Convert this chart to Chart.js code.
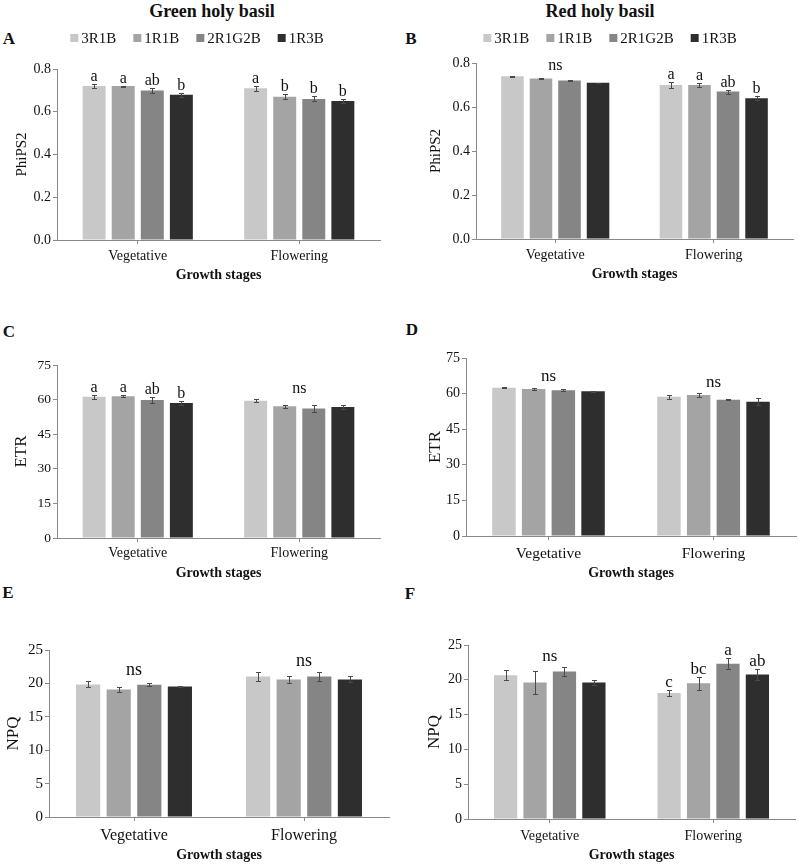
<!DOCTYPE html>
<html>
<head>
<meta charset="utf-8">
<title>PhiPS2, ETR and NPQ of holy basil</title>
<script src="https://cdn.jsdelivr.net/npm/chart.js@4.4.1/dist/chart.umd.min.js"></script>
<style>
  body { margin: 0; background: #fff; }
  #page { position: relative; width: 798px; height: 864px; overflow: hidden;
          font-family: "Liberation Serif", "Times New Roman", serif; color: #111; }
  .txt { position: absolute; transform: translate(-50%, -50%); font-weight: bold;
         white-space: nowrap; line-height: 1; }
  canvas { position: absolute; }
</style>
</head>
<body>
<div id="page">
  <div class="txt" style="left:212px;top:11px;font-size:18px">Green holy basil</div>
  <div class="txt" style="left:600px;top:11px;font-size:18px">Red holy basil</div>
  <div class="txt" style="left:9px;top:38px;font-size:17px">A</div>
  <div class="txt" style="left:411px;top:38px;font-size:17px">B</div>
  <div class="txt" style="left:9px;top:331px;font-size:17px">C</div>
  <div class="txt" style="left:412px;top:329px;font-size:17px">D</div>
  <div class="txt" style="left:8px;top:592px;font-size:17px">E</div>
  <div class="txt" style="left:410px;top:593px;font-size:17px">F</div>

  <canvas id="cA" width="398" height="290" style="left:0;top:0"></canvas>
  <canvas id="cB" width="400" height="290" style="left:398px;top:0"></canvas>
  <canvas id="cC" width="398" height="300" style="left:0;top:290px"></canvas>
  <canvas id="cD" width="400" height="300" style="left:398px;top:290px"></canvas>
  <canvas id="cE" width="398" height="274" style="left:0;top:590px"></canvas>
  <canvas id="cF" width="400" height="274" style="left:398px;top:590px"></canvas>
</div>

<script>
const stages = ['Vegetative', 'Flowering'];
const treatments = ['3R1B', '1R1B', '2R1G2B', '1R3B'];
const barColors = ['#c8c8c8', '#a4a4a4', '#858585', '#2e2e2e'];

// rows follow treatments, columns follow stages
const phiGreen = [[0.72, 0.71], [0.72, 0.67], [0.70, 0.66], [0.68, 0.65]];
const phiGreenErr = [[0.011, 0.011], [0.002, 0.011], [0.012, 0.012], [0.010, 0.010]];
const phiGreenLetters = [['a', 'a'], ['a', 'b'], ['ab', 'b'], ['b', 'b']];
const phiGreenNs = [false, false];

const phiRed = [[0.74, 0.70], [0.73, 0.70], [0.72, 0.67], [0.71, 0.64]];
const phiRedErr = [[0.003, 0.012], [0.002, 0.011], [0.002, 0.009], [0.001, 0.010]];
const phiRedLetters = [['', 'a'], ['', 'a'], ['', 'ab'], ['', 'b']];
const phiRedNs = [true, false];

const etrGreen = [[61.2, 59.5], [61.5, 57.1], [59.8, 56.1], [58.5, 56.8]];
const etrGreenErr = [[1.0, 0.6], [0.3, 0.7], [1.2, 1.5], [0.8, 0.9]];
const etrGreenLetters = [['a', ''], ['a', ''], ['ab', ''], ['b', '']];
const etrGreenNs = [false, true];

const etrRed = [[62.5, 58.7], [61.9, 59.4], [61.4, 57.4], [61.0, 56.6]];
const etrRedErr = [[0.2, 0.9], [0.3, 0.8], [0.4, 0.2], [0.2, 1.5]];
const etrRedLetters = [['', ''], ['', ''], ['', ''], ['', '']];
const etrRedNs = [true, true];

const npqGreen = [[19.85, 21.05], [19.1, 20.6], [19.8, 21.05], [19.55, 20.6]];
const npqGreenErr = [[0.45, 0.65], [0.4, 0.5], [0.25, 0.65], [0.12, 0.45]];
const npqGreenLetters = [['', ''], ['', ''], ['', ''], ['', '']];
const npqGreenNs = [true, true];

const npqRed = [[20.65, 18.1], [19.6, 19.5], [21.2, 22.3], [19.6, 20.75]];
const npqRedErr = [[0.75, 0.4], [1.65, 0.9], [0.6, 0.8], [0.3, 0.8]];
const npqRedLetters = [['', 'c'], ['', 'bc'], ['', 'a'], ['', 'ab']];
const npqRedNs = [true, false];

const phiTicks = [0, 0.2, 0.4, 0.6, 0.8];
const etrTicks = [0, 15, 30, 45, 60, 75];
const npqTicks = [0, 5, 10, 15, 20, 25];

const serif = '"Liberation Serif", "Times New Roman", serif';
const ink = '#111111';
const axisColor = '#8a8a8a';

// error bars, significance letters and "ns" labels
const marksPlugin = {
  id: 'marks',
  afterDatasetsDraw(chart, args, opts) {
    const ctx = chart.ctx;
    const x = chart.scales.x, y = chart.scales.y;
    const tops = stages.map(() => Infinity);
    ctx.save();
    ctx.strokeStyle = '#4a4a4a';
    ctx.lineWidth = 1;
    ctx.fillStyle = ink;
    ctx.font = opts.size + 'px ' + serif;
    ctx.textAlign = 'center';
    ctx.textBaseline = 'alphabetic';
    chart.data.datasets.forEach((ds, i) => {
      chart.getDatasetMeta(i).data.forEach((bar, j) => {
        const v = ds.data[j], e = ds.err[j];
        const yt = Math.round(y.getPixelForValue(v + e)) + 0.5;
        const yb = Math.round(y.getPixelForValue(v - e)) + 0.5;
        const bx = Math.round(bar.x) + 0.5;
        ctx.beginPath();
        ctx.moveTo(bx, yt); ctx.lineTo(bx, yb);
        ctx.moveTo(bx - 2.5, yt); ctx.lineTo(bx + 2.5, yt);
        ctx.moveTo(bx - 2.5, yb); ctx.lineTo(bx + 2.5, yb);
        ctx.stroke();
        tops[j] = Math.min(tops[j], yt);
        if (ds.letters[j]) ctx.fillText(ds.letters[j], bar.x, yt - 4);
      });
    });
    opts.ns.forEach((on, j) => {
      if (on) ctx.fillText('ns', x.getPixelForValue(j), tops[j] - 7);
    });
    ctx.restore();
  }
};

// square-marker legend above the plot
const legendPlugin = {
  id: 'boxLegend',
  afterDraw(chart, args, opts) {
    if (!opts.show) return;
    const ctx = chart.ctx;
    const box = 8, gap = 3, space = 17;
    ctx.save();
    ctx.font = opts.size + 'px ' + serif;
    const items = chart.data.datasets.map(d => ({
      text: d.label, color: d.backgroundColor, w: ctx.measureText(d.label).width
    }));
    const total = items.reduce((s, it) => s + box + gap + it.w, 0) + space * (items.length - 1);
    let cx = opts.cx - total / 2;
    ctx.textBaseline = 'middle';
    ctx.textAlign = 'left';
    items.forEach(it => {
      ctx.fillStyle = it.color;
      ctx.fillRect(cx, opts.cy - box / 2, box, box);
      cx += box + gap;
      ctx.fillStyle = ink;
      ctx.fillText(it.text, cx, opts.cy + 1);
      cx += it.w + space;
    });
    ctx.restore();
  }
};

function panel(id, rows, errs, letters, ns, ticks, o) {
  new Chart(document.getElementById(id), {
    type: 'bar',
    data: {
      labels: stages,
      datasets: treatments.map((t, i) => ({
        label: t,
        data: rows[i],
        err: errs[i],
        letters: letters[i],
        backgroundColor: barColors[i],
        borderWidth: 0,
        categoryPercentage: 0.72,
        barPercentage: 0.79
      }))
    },
    options: {
      responsive: false,
      animation: false,
      layout: { padding: { left: 0, top: o.top, right: o.right, bottom: o.bottom } },
      plugins: {
        legend: { display: false },
        tooltip: { enabled: false },
        marks: { ns: ns, size: o.mark },
        boxLegend: { show: !!o.legendX, cx: o.legendX, cy: 38, size: 15 }
      },
      scales: {
        x: {
          grid: { display: true, drawOnChartArea: false, offset: false, tickLength: 4, color: axisColor },
          border: { color: axisColor },
          ticks: { font: { family: serif, size: o.cat, lineHeight: 1 }, color: ink, padding: o.catPad, maxRotation: 0 },
          title: {
            display: true, text: 'Growth stages', color: ink,
            font: { family: serif, size: 14, weight: 'bold', lineHeight: 1 },
            padding: { top: 0, bottom: o.gsPad }
          },
          afterFit: s => { s.height = 45; }
        },
        y: {
          min: ticks[0],
          max: ticks[ticks.length - 1],
          afterBuildTicks: s => { s.ticks = ticks.map(v => ({ value: v })); },
          grid: { display: true, drawOnChartArea: false, tickLength: 4, color: axisColor },
          border: { color: axisColor },
          ticks: {
            font: { family: serif, size: o.tick, lineHeight: 1 }, color: ink, padding: 2,
            callback: v => o.fixed ? v.toFixed(1) : String(v)
          },
          title: {
            display: true, text: o.yTitle, color: ink,
            font: { family: serif, size: o.ySize, lineHeight: 1 },
            padding: { top: o.yPad, bottom: 0 }
          },
          afterFit: s => { s.width = o.left; }
        }
      }
    },
    plugins: [marksPlugin, legendPlugin]
  });
}

panel('cA', phiGreen, phiGreenErr, phiGreenLetters, phiGreenNs, phiTicks,
  { left: 57, top: 69, right: 18, bottom: 5, tick: 14, cat: 14, catPad: 5, gsPad: 3,
    yTitle: 'PhiPS2', ySize: 15, yPad: 15, fixed: true, mark: 16, legendX: 197 });
panel('cB', phiRed, phiRedErr, phiRedLetters, phiRedNs, phiTicks,
  { left: 78, top: 63, right: 5, bottom: 6, tick: 14, cat: 14, catPad: 5, gsPad: 3,
    yTitle: 'PhiPS2', ySize: 15, yPad: 31, fixed: true, mark: 16, legendX: 212 });
panel('cC', etrGreen, etrGreenErr, etrGreenLetters, etrGreenNs, etrTicks,
  { left: 57, top: 75, right: 18, bottom: 7, tick: 13.5, cat: 14, catPad: 4, gsPad: 3,
    yTitle: 'ETR', ySize: 17, yPad: 13, mark: 16 });
panel('cD', etrRed, etrRedErr, etrRedLetters, etrRedNs, etrTicks,
  { left: 68, top: 68, right: 2, bottom: 9, tick: 14, cat: 15.5, catPad: 6, gsPad: 1,
    yTitle: 'ETR', ySize: 17, yPad: 29, mark: 17 });
panel('cE', npqGreen, npqGreenErr, npqGreenLetters, npqGreenNs, npqTicks,
  { left: 49, top: 60, right: 9, bottom: 2, tick: 15, cat: 16, catPad: 7, gsPad: 0,
    yTitle: 'NPQ', ySize: 17, yPad: 5, mark: 18 });
panel('cF', npqRed, npqRedErr, npqRedLetters, npqRedNs, npqTicks,
  { left: 70, top: 55, right: 3, bottom: 0, tick: 14, cat: 14, catPad: 6, gsPad: 2,
    yTitle: 'NPQ', ySize: 17, yPad: 28, mark: 17 });
</script>
</body>
</html>
